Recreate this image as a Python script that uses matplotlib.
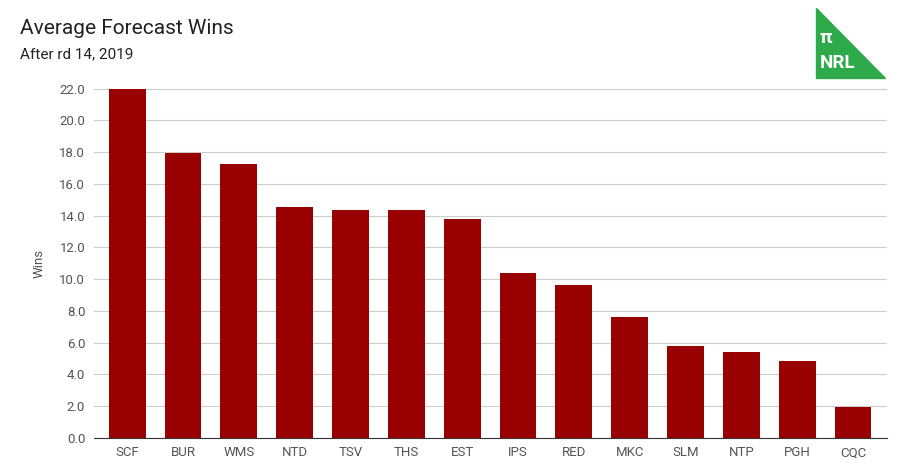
import matplotlib
matplotlib.use("Agg")
import matplotlib.pyplot as plt
from matplotlib.patches import Polygon

plt.rcParams['font.family'] = ['Roboto', 'DejaVu Sans']

teams = ["SCF","BUR","WMS","NTD","TSV","THS","EST","IPS","RED","MKC","SLM","NTP","PGH","CQC"]
wins = [22.0, 17.95, 17.28, 14.57, 14.38, 14.38, 13.8, 10.4, 9.65, 7.63, 5.8, 5.42, 4.85, 1.95]
yticks = [0, 2, 4, 6, 8, 10, 12, 14, 16, 18, 20, 22]

fig = plt.figure(figsize=(9, 4.74), dpi=100)
ax = fig.add_axes([0.104, 0.076, 0.881, 0.737])
x = range(len(teams))
ax.bar(x, wins, width=0.66, color="#990000", zorder=3)
ax.set_xlim(-0.6, len(teams) - 0.4)
ax.set_ylim(0, 22)
ax.set_yticks(yticks)
ax.set_yticklabels([f"{v:.1f}" for v in yticks], fontsize=9.5, color="#555555")
ax.set_xticks(list(x))
ax.set_xticklabels(teams, fontsize=9.5, color="#555555")
ax.grid(axis="y", color="#cccccc", linewidth=0.8, zorder=0)
for s in ["top", "right", "left"]:
    ax.spines[s].set_visible(False)
ax.spines["bottom"].set_color("#333333")
ax.tick_params(length=0, pad=6)
ax.set_ylabel("Wins", fontsize=9.5, color="#555555", labelpad=10)

fig.text(0.022, 0.94, "Average Forecast Wins", fontsize=15, color="#222222", va="center")
fig.text(0.022, 0.885, "After rd 14, 2019", fontsize=11, color="#222222", va="center")

W, H = 900, 474
tri = Polygon([(816/W, 1-8/H), (816/W, 1-78/H), (885/W, 1-78/H)],
              closed=True, transform=fig.transFigure, color="#2eaa4a")
fig.patches.append(tri)
fig.text(826/W, 1-38/H, "π", fontsize=14, color="white", weight="bold", va="center", ha="center")
fig.text(838/W, 1-63/H, "NRL", fontsize=13.5, color="white", weight="bold", va="center", ha="center")

fig.savefig("out.png", dpi=100)
